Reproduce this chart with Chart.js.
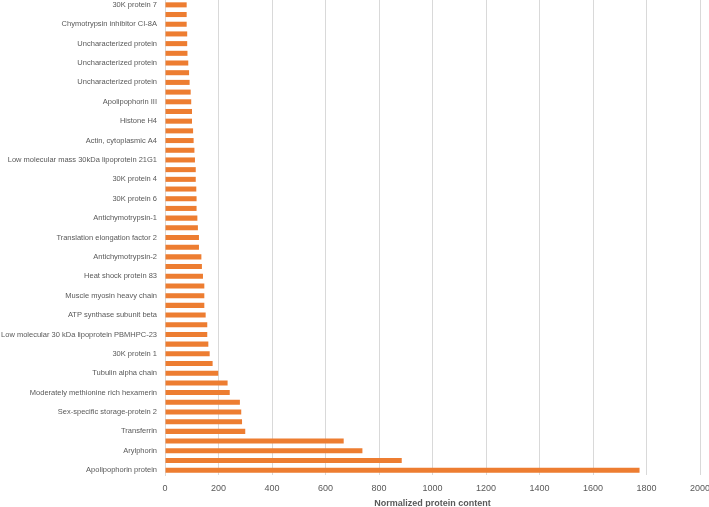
<!DOCTYPE html>
<html>
<head>
<meta charset="utf-8">
<script src="https://cdn.jsdelivr.net/npm/chart.js@4/dist/chart.umd.min.js"></script>
<style>
  html, body { margin: 0; padding: 0; background: #fff; }
  #wrap { width: 709px; height: 507px; }
</style>
</head>
<body>
<div id="wrap"><canvas id="chart" width="709" height="507"></canvas></div>
<script>
'use strict';

// Categories listed top to bottom; unnamed rows are the ones Excel skipped a label for
const proteins = [
  '30K protein 7', '',
  'Chymotrypsin inhibitor CI-8A', '',
  'Uncharacterized protein', '',
  'Uncharacterized protein', '',
  'Uncharacterized protein', '',
  'Apolipophorin III', '',
  'Histone H4', '',
  'Actin, cytoplasmic A4', '',
  'Low molecular mass 30kDa lipoprotein 21G1', '',
  '30K protein 4', '',
  '30K protein 6', '',
  'Antichymotrypsin-1', '',
  'Translation elongation factor 2', '',
  'Antichymotrypsin-2', '',
  'Heat shock protein 83', '',
  'Muscle myosin heavy chain', '',
  'ATP synthase subunit beta', '',
  'Low molecular 30 kDa lipoprotein PBMHPC-23', '',
  '30K protein 1', '',
  'Tubulin alpha chain', '',
  'Moderately methionine rich hexamerin', '',
  'Sex-specific storage-protein 2', '',
  'Transferrin', '',
  'Arylphorin', '',
  'Apolipophorin protein',
];

const content = [
  81, 81, 81, 83, 83, 84, 87, 90, 92, 96,
  98, 101, 101, 105, 107, 110, 112, 115, 115, 117,
  118, 118, 121, 123, 127, 127, 136, 138, 142, 147,
  147, 147, 152, 158, 158, 162, 167, 178, 199, 234,
  242, 280, 285, 288, 300, 668, 738, 885, 1774,
];

const xTicks = [0, 200, 400, 600, 800, 1000, 1200, 1400, 1600, 1800, 2000];

const TEXT = '#595959';
const GRID = '#d9d9d9';
const FONT = "'Liberation Sans', Arial, sans-serif";

new Chart(document.getElementById('chart'), {
  type: 'bar',
  data: {
    labels: proteins,
    datasets: [{
      label: 'Normalized protein content',
      data: content,
      backgroundColor: '#ED7D31',
      categoryPercentage: 1,
      barPercentage: 0.52,
    }],
  },
  options: {
    indexAxis: 'y',
    responsive: false,
    animation: false,
    layout: { padding: { left: 0, right: 9, top: 0, bottom: 0 } },
    plugins: {
      legend: { display: false },
      tooltip: { enabled: false },
    },
    scales: {
      x: {
        min: 0,
        max: 2000,
        afterBuildTicks: axis => { axis.ticks = xTicks.map(v => ({ value: v })); },
        afterFit: axis => {
          axis.height = 32;
          axis.paddingLeft = 0;
          axis.paddingRight = 0;
        },
        grid: { color: GRID, drawTicks: false },
        border: { display: false },
        ticks: {
          color: TEXT,
          font: { family: FONT, size: 9 },
          padding: 8,
          maxRotation: 0,
          callback: v => String(v),
        },
        title: {
          display: true,
          text: 'Normalized protein content',
          color: TEXT,
          font: { family: FONT, size: 9, weight: 'bold' },
          padding: { top: 2, bottom: -2 },
        },
      },
      y: {
        afterFit: axis => {
          axis.width = 165;
          axis.paddingTop = 0;
          axis.paddingBottom = 0;
        },
        grid: { display: false, drawTicks: false },
        border: { display: true, color: GRID },
        ticks: {
          autoSkip: false,
          color: TEXT,
          font: { family: FONT, size: 7.5 },
          padding: 8,
        },
      },
    },
  },
});
</script>
</body>
</html>
